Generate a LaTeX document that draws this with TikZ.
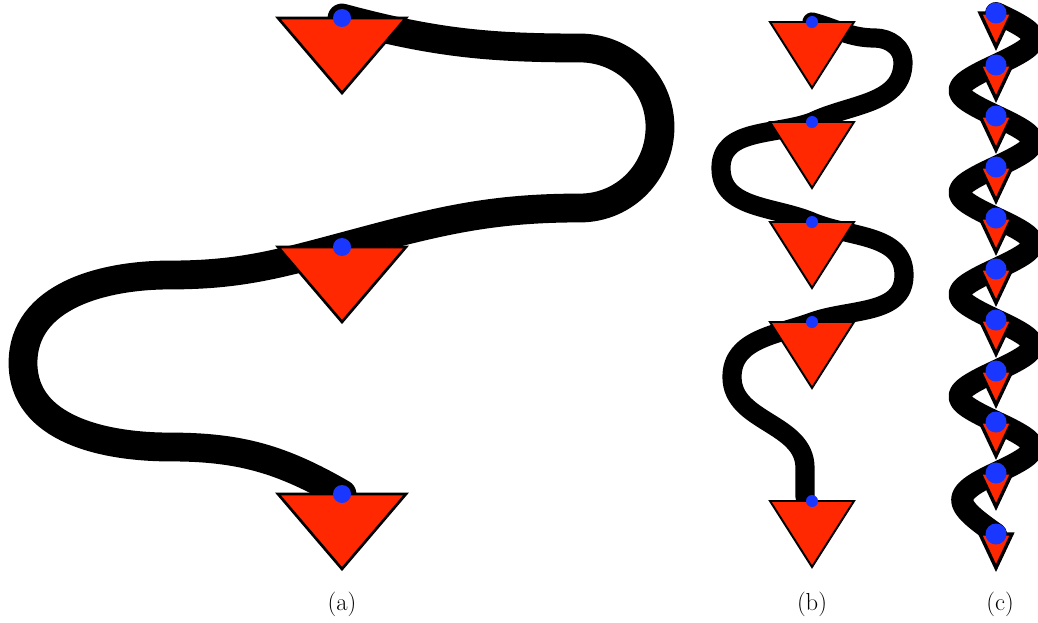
\documentclass[tikz,border=0pt]{standalone}
\usepackage{tikz}

\definecolor{trired}{RGB}{255,40,0}
\definecolor{dotblue}{RGB}{25,55,255}

\tikzset{
    hose/.style={draw=black, line cap=round, line join=round},
    tri/.style={fill=trired, draw=black, line join=miter},
    rlobe/.style={out=-25, in=25, looseness=2.7},
    llobe/.style={out=205, in=155, looseness=2.7},
}

\begin{document}
\begin{tikzpicture}[x=0.025cm, y=0.025cm]
    \useasboundingbox (0,0) rectangle (1038,-623);

    % anchor points on the tops of the triangles
    \coordinate (a1) at (342,-18);
    \coordinate (a2) at (342,-247);
    \coordinate (a3) at (342,-494);

    \coordinate (b1) at (812,-22);
    \coordinate (b2) at (812,-122);
    \coordinate (b3) at (812,-222);
    \coordinate (b4) at (812,-322);
    \coordinate (b5) at (812,-501);
    \coordinate (bend) at (805,-497);

    \foreach \i/\y in {1/13,2/65,3/116,4/167,5/218,6/269,7/320,8/371,9/422,10/473,11/534}
        \coordinate (c\i) at (996,-\y);

    % (a)
    \draw[hose, line width=0.72cm] (a1) to[out=-15, in=180] (580,-48)
        to[out=0, in=90] (660,-127) to[out=-90, in=0] (580,-208)
        to[out=180, in=15] (a2) to[out=195, in=0] (170,-275)
        to[out=180, in=90] (23,-363) to[out=-90, in=180] (170,-447)
        to[out=0, in=150] (a3);

    % (b)
    \draw[hose, line width=0.48cm] (b1) to[out=-15, in=180] (875,-38)
        to[out=0, in=90] (903,-62) to[out=-90, in=26] (b2)
        to[out=200, in=90] (721,-168) to[out=-90, in=157] (b3)
        to[out=-23, in=90] (904,-275) to[out=-90, in=20] (b4)
        to[out=200, in=90] (732,-377) to[out=-90, in=90] (805,-468)
        -- (bend);

    % (c)
    \draw[hose, line width=0.55cm] (c1) to[rlobe] (c2) to[llobe] (c3)
        to[rlobe] (c4) to[llobe] (c5) to[rlobe] (c6) to[llobe] (c7)
        to[rlobe] (c8) to[llobe] (c9) to[rlobe] (c10)
        to[llobe, in=145, looseness=2.2] (c11);

    \foreach \p in {a1,a2,a3} {
        \filldraw[tri, line width=1.9pt] (\p) ++(-64,0) -- ++(128,0) -- ++(-64,-75) -- cycle;
        \fill[dotblue] (\p) circle[radius=9];
    }
    \foreach \p in {b1,b2,b3,b4,b5} {
        \filldraw[tri, line width=1.4pt] (\p) ++(-42,0) -- ++(84,0) -- ++(-42,-66) -- cycle;
        \fill[dotblue] (\p) circle[radius=6];
    }
    \foreach \p in {c1,c2,c3,c4,c5,c6,c7,c8,c9,c10,c11} {
        \filldraw[tri, line width=2.4pt] (\p) ++(-16,0) -- ++(32,0) -- ++(-16,-34) -- cycle;
        \fill[dotblue] (\p) circle[radius=10.5];
    }

    \node[font=\fontsize{17.5}{20}\selectfont] (capa) at (342,-604) {(a)};
    \node[font=\fontsize{17.5}{20}\selectfont] (capb) at (812,-604) {(b)};
    \node[font=\fontsize{17.5}{20}\selectfont] (capc) at (1000,-604) {(c)};
\end{tikzpicture}
\end{document}
